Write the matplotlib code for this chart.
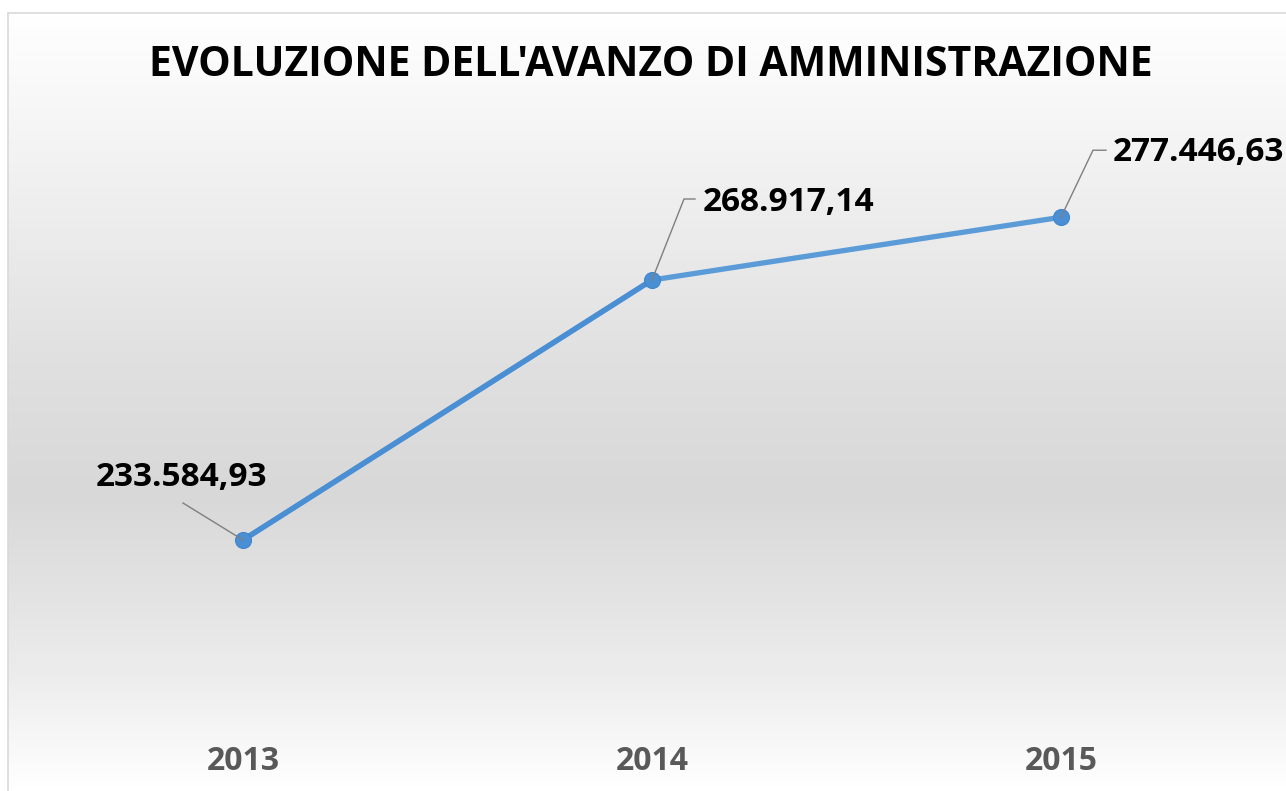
"""Evoluzione dell'avanzo di amministrazione — grafico a linee"""
import matplotlib
matplotlib.use('Agg')
import matplotlib.pyplot as plt
import numpy as np
from matplotlib.colors import LinearSegmentedColormap

plt.rcParams['font.family'] = ['Open Sans', 'DejaVu Sans']

# dati
anni = ['2013', '2014', '2015']
avanzo = [233584.93, 268917.14, 277446.63]
etichette = ['233.584,93', '268.917,14', '277.446,63']

W, H = 1286, 791
fig = plt.figure(figsize=(W / 100, H / 100), dpi=100)
fig.patch.set_facecolor('white')

# sfondo sfumato (bianco -> grigio -> bianco)
bg = fig.add_axes([8 / W, 0, 1 - 8 / W, 1 - 13 / H], zorder=0)
cmap = LinearSegmentedColormap.from_list(
    'sfondo', [(0.0, '#ffffff'), (0.12, '#f7f7f7'), (0.45, '#e0e0e0'),
               (0.62, '#d8d8d8'), (0.85, '#ececec'), (1.0, '#ffffff')])
grad = np.linspace(0, 1, 400).reshape(-1, 1)
bg.imshow(grad, aspect='auto', cmap=cmap, extent=[0, 1, 0, 1], origin='upper')
bg.set_xlim(0, 1)
bg.set_ylim(0, 1)
bg.axis('off')
# bordo del grafico (solo sinistra e alto visibili)
fig.add_artist(plt.Line2D([8 / W, 8 / W], [0, 1 - 13 / H], color='#d9d9d9', lw=1.2))
fig.add_artist(plt.Line2D([8 / W, 1], [1 - 13 / H, 1 - 13 / H], color='#d9d9d9', lw=1.2))

# area del grafico
top_px, bot_px = 110, 720
ax = fig.add_axes([38.5 / W, 1 - bot_px / H, 1227 / W, (bot_px - top_px) / H], zorder=1)
ax.patch.set_alpha(0)
scala = (avanzo[1] - avanzo[0]) / 260.0
ax.set_ylim(avanzo[0] - (bot_px - 540) * scala, avanzo[0] + (540 - top_px) * scala)
ax.set_xlim(-0.5, 2.5)

x = np.arange(len(anni))
ax.plot(x, avanzo, color='#5a9bd8', lw=3.8, solid_capstyle='round', zorder=3)
ax.plot(x[:2], avanzo[:2], color='#4a8fd4', lw=3.8, solid_capstyle='round', zorder=3)
ax.plot(x, avanzo, 'o', ms=11.5, color='#4a8fd4', mec='#3f86cc', mew=0.8, zorder=4)

# etichette dati con linee guida
off_text = [(-62, 63), (136, 78), (137, 65)]
for i, (v, lab) in enumerate(zip(avanzo, etichette)):
    dx, dy = off_text[i]
    ax.annotate(lab, xy=(x[i], v), xytext=(dx, dy), textcoords='offset pixels',
                ha='center', va='center', fontsize=24, fontweight='bold',
                color='black', zorder=5)
# linee guida
guide = [
    [(0, 0), (-60, 37)],
    [(0, 0), (32, 81), (43, 81)],
    [(0, 0), (32, 67), (45, 67)],
]
for i, pts in enumerate(guide):
    px0, py0 = ax.transData.transform((x[i], avanzo[i]))
    xs, ys = [], []
    for ddx, ddy in pts:
        xs.append((px0 + ddx) / W)
        ys.append((py0 + ddy) / H)
    fig.add_artist(plt.Line2D(xs, ys, color='#7f7f7f', lw=1.0, zorder=2))

ax.set_xticks(x)
ax.set_xticklabels(anni, fontsize=23, fontweight='bold', color='#595959')
ax.tick_params(axis='x', length=0, pad=18)
ax.set_yticks([])
for s in ax.spines.values():
    s.set_visible(False)

fig.text(651 / W, 1 - 66 / H, "EVOLUZIONE DELL'AVANZO DI AMMINISTRAZIONE",
         ha='center', va='center', fontsize=29.5, fontweight='bold', color='black')

fig.savefig('out.png', dpi=100)
